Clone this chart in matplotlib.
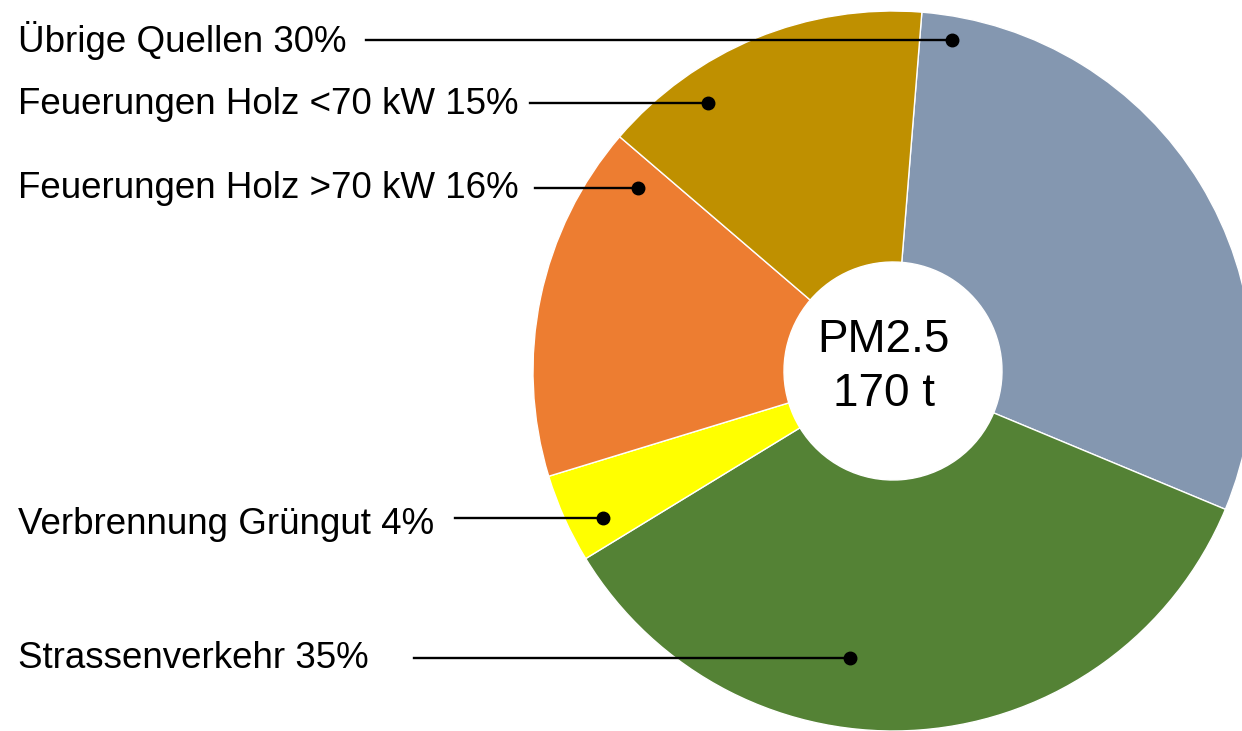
import matplotlib.pyplot as plt

plt.rcParams['font.family'] = ['Liberation Sans', 'DejaVu Sans']

# shares of PM2.5 emissions, clockwise from the top
labels = ['Übrige Quellen', 'Strassenverkehr', 'Verbrennung Grüngut',
          'Feuerungen Holz >70 kW', 'Feuerungen Holz <70 kW']
shares = [30, 35, 4, 16, 15]
colors = ['#8497B0', '#548235', '#FFFF00', '#ED7D31', '#BF9000']
total_t = 170

# label layout (pixel coords, y pointing down): text y, line start x, dot xy
label_order = [0, 4, 3, 2, 1]
text_y = [40, 104, 188, 524, 658]
line_x0 = [366, 530, 535, 455, 414]
dots = [(952, 40), (708, 103), (638, 188), (603, 518), (850, 658)]

fig = plt.figure(figsize=(12.42, 7.31), dpi=100)
ax = fig.add_axes([0, 0, 1, 1])

cx, cy, r = 893, 371, 360
# y axis is inverted below, so angles run mirrored: counterclock in data
# coords shows up clockwise on screen
ax.pie(shares, colors=colors, startangle=-85.4, counterclock=True,
       center=(cx, cy), radius=r,
       wedgeprops=dict(width=r - 109, edgecolor='white', linewidth=1))

for i, ty, x0, (dx, dy) in zip(label_order, text_y, line_x0, dots):
    ax.text(18, ty, f'{labels[i]} {shares[i]}%', fontsize=26.5,
            ha='left', va='center')
    ax.plot([x0, dx], [dy, dy], color='black', lw=1.7)
    ax.plot(dx, dy, 'o', color='black', ms=9)

ax.text(883, 352, 'PM2.5', fontsize=33, ha='center', va='baseline')
ax.text(884, 406, f'{total_t} t', fontsize=33, ha='center', va='baseline')

ax.set_xlim(0, 1242)
ax.set_ylim(731, 0)
ax.set_aspect('auto')
ax.axis('off')

fig.savefig('out.png', dpi=100)
